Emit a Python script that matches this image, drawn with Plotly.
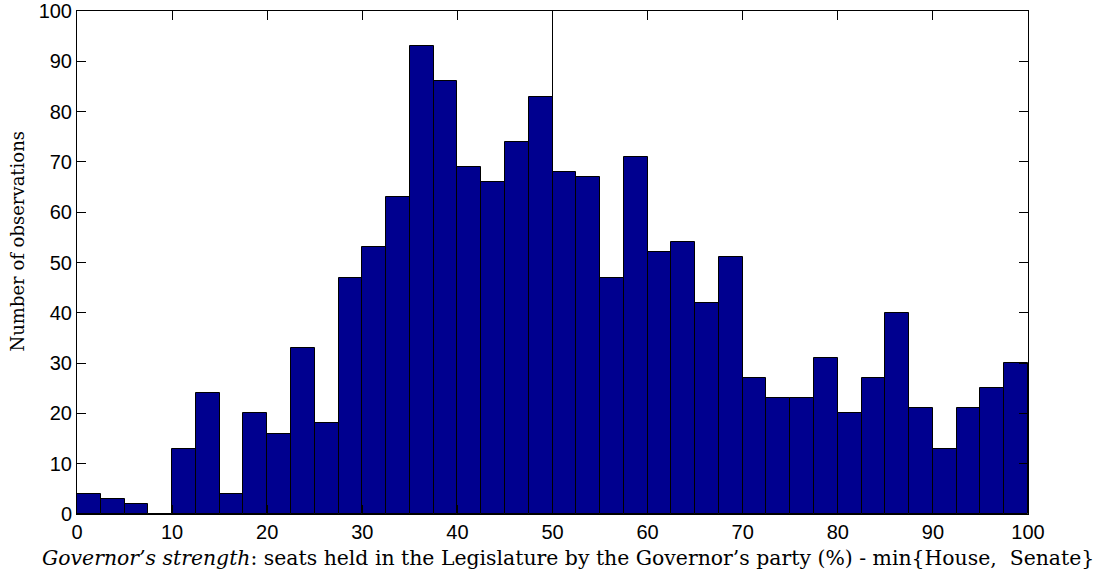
import plotly.graph_objects as go

bin_width = 2.5
bin_left_edges = [i * bin_width for i in range(40)]
counts = [4, 3, 2, 0, 13, 24, 4, 20, 16, 33,
          18, 47, 53, 63, 93, 86, 69, 66, 74, 83,
          68, 67, 47, 71, 52, 54, 42, 51, 27, 23,
          23, 31, 20, 27, 40, 21, 13, 21, 25, 30]
x_ticks = [0, 10, 20, 30, 40, 50, 60, 70, 80, 90, 100]
y_ticks = [0, 10, 20, 30, 40, 50, 60, 70, 80, 90, 100]
ref_line_x = 50

x_title = ("<i>Governor’s strength</i>: seats held in the Legislature by the "
           "Governor’s party (%) - min{House,\u00a0 Senate}")
y_title = "Number of observations"

centers = [e + bin_width / 2 for e in bin_left_edges]

fig = go.Figure()
fig.add_trace(go.Bar(
    x=centers, y=counts, width=[bin_width] * len(counts),
    marker=dict(color="#00008F", line=dict(color="black", width=1)),
    showlegend=False, hoverinfo="x+y",
))

fig.add_shape(type="line", x0=ref_line_x, x1=ref_line_x, y0=0, y1=100,
              xref="x", yref="y", layer="below",
              line=dict(color="black", width=1))

tickfont = dict(family="Liberation Sans, Arial, sans-serif", size=20, color="black")
serif = "DejaVu Serif, Liberation Serif, serif"

fig.add_annotation(text=x_title, xref="paper", yref="paper", x=0.5163, y=0,
                   yshift=-44, xanchor="center", yanchor="middle", showarrow=False,
                   font=dict(family=serif, size=20.4, color="black"))
fig.add_annotation(text=y_title, xref="paper", yref="paper", x=0, y=0.5427,
                   xshift=-59.5, xanchor="center", yanchor="middle", showarrow=False,
                   textangle=-90, font=dict(family=serif, size=18, color="black"))

fig.update_layout(
    width=1102, height=576,
    margin=dict(l=77, r=74, t=11, b=62, autoexpand=False),
    paper_bgcolor="white", plot_bgcolor="white",
    bargap=0,
    xaxis=dict(range=[0, 100], tickvals=x_ticks, ticks="inside", ticklen=9,
               tickcolor="black", tickwidth=1, showline=True, linecolor="black",
               linewidth=1, mirror="ticks", showgrid=False, zeroline=False,
               automargin=False, tickfont=tickfont),
    yaxis=dict(range=[0, 100], tickvals=y_ticks, ticks="inside", ticklen=9,
               tickcolor="black", tickwidth=1, showline=True, linecolor="black",
               linewidth=1, mirror="ticks", showgrid=False, zeroline=False,
               automargin=False, tickfont=tickfont),
)

fig.write_html("out.html", config={"displayModeBar": False},
               post_script="document.body.style.margin='0';")
